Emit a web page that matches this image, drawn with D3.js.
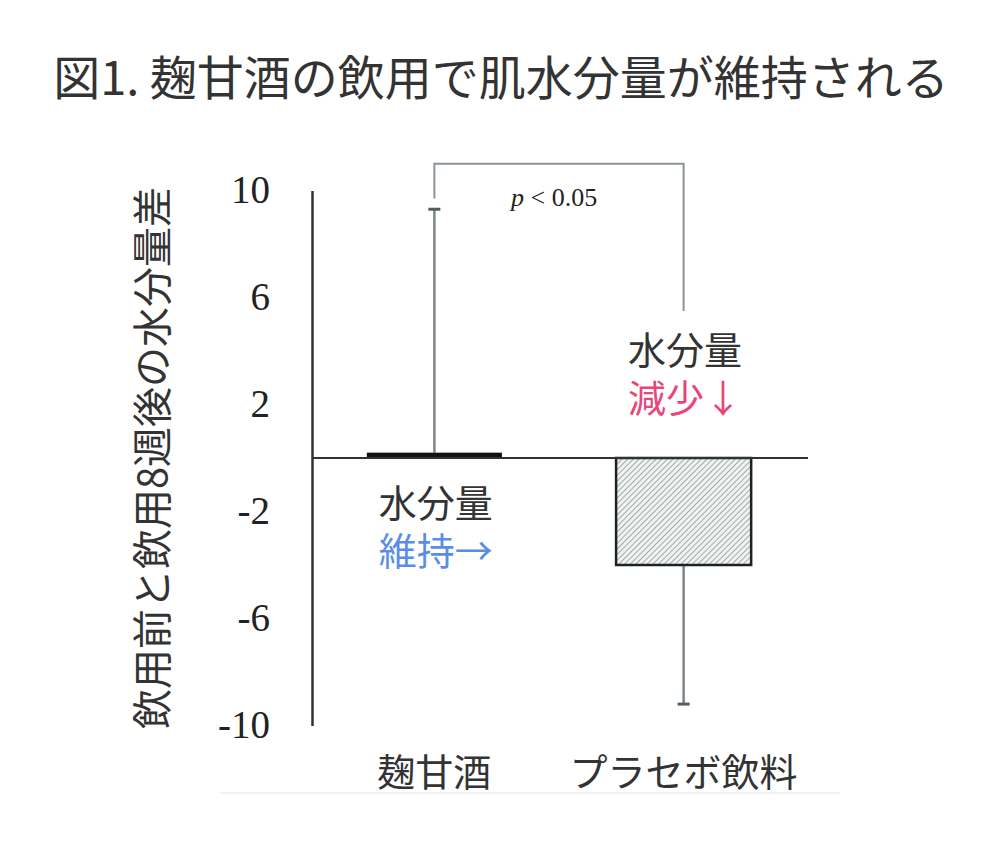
<!DOCTYPE html>
<html>
<head>
<meta charset="utf-8">
<script src="https://cdn.jsdelivr.net/npm/d3@7"></script>
<style>
  html, body { margin: 0; padding: 0; background: #fff; }
  svg { display: block; }
</style>
</head>
<body>
<div id="chart"></div>
<script>
// data
var categories = ["麹甘酒", "プラセボ飲料"];
var means = [0.2, -4.0];
var sds = [9.1, 5.2];
var tickValues = [10, 6, 2, -2, -6, -10];
var notes = [
    { cat: 0, lines: ["水分量", "維持→"], color: "#5a8ee6", v: -2.2 },
    { cat: 1, lines: ["水分量", "減少↓"], color: "#e8457a", v: 3.5 }
];
var bracket = { top: 11.0, leftEnd: 9.7, rightEnd: 5.5, label: "p < 0.05" };

var width = 1001, height = 841;
var svg = d3.select("#chart").append("svg")
    .attr("width", width)
    .attr("height", height);

var cjk = "'Noto Sans CJK JP', 'Noto Sans', sans-serif";
var serif = "'Liberation Serif', 'DejaVu Serif', serif";

var y = d3.scaleLinear().domain([-10, 10]).range([725.5, 190.5]);
var x = d3.scaleBand().domain(categories).range([312, 806])
    .paddingInner(0.458).paddingOuter(0.22);

// hatch for the placebo bar
var defs = svg.append("defs");
var pat = defs.append("pattern")
    .attr("id", "hatch")
    .attr("patternUnits", "userSpaceOnUse")
    .attr("width", 4).attr("height", 4)
    .attr("patternTransform", "rotate(45)");
pat.append("rect").attr("width", 4).attr("height", 4).attr("fill", "#f1f3f3");
pat.append("line").attr("x1", 0).attr("y1", 0).attr("x2", 0).attr("y2", 4)
    .attr("stroke", "#939c9c").attr("stroke-width", 1.7);

// title
svg.append("text")
    .attr("x", 501).attr("y", 95)
    .attr("text-anchor", "middle")
    .attr("font-family", cjk)
    .attr("font-size", 47)
    .attr("fill", "#333")
    .text("図1. 麹甘酒の飲用で肌水分量が維持される");

// y title
svg.append("text")
    .attr("transform", "translate(150," + y(0) + ") rotate(-90)")
    .attr("text-anchor", "middle")
    .attr("dominant-baseline", "central")
    .attr("font-family", cjk)
    .attr("font-size", 40)
    .attr("fill", "#333")
    .text("飲用前と飲用8週後の水分量差");

// significance bracket
var cx = function (i) { return x(categories[i]) + x.bandwidth() / 2; };
svg.append("path")
    .attr("d", "M" + cx(0) + "," + y(bracket.leftEnd) + "V" + y(bracket.top) +
        "H" + cx(1) + "V" + y(bracket.rightEnd))
    .attr("fill", "none")
    .attr("stroke", "#8c9494")
    .attr("stroke-width", 2);

var pt = svg.append("text")
    .attr("x", 511).attr("y", y(bracket.top) + 42)
    .attr("font-family", serif)
    .attr("font-size", 26)
    .attr("fill", "#222");
pt.append("tspan").attr("font-style", "italic").text("p");
pt.append("tspan").text(" < 0.05");

// error bars (away from zero)
var errs = svg.append("g").selectAll("g").data(means).enter().append("g");
errs.append("line")
    .attr("x1", function (d, i) { return cx(i); })
    .attr("x2", function (d, i) { return cx(i); })
    .attr("y1", function (d) { return y(d); })
    .attr("y2", function (d, i) { return y(d + (d >= 0 ? sds[i] : -sds[i])); })
    .attr("stroke", "#7d8585")
    .attr("stroke-width", 2.5);
errs.append("line")
    .attr("x1", function (d, i) { return cx(i) - 6; })
    .attr("x2", function (d, i) { return cx(i) + 6; })
    .attr("y1", function (d, i) { return y(d + (d >= 0 ? sds[i] : -sds[i])); })
    .attr("y2", function (d, i) { return y(d + (d >= 0 ? sds[i] : -sds[i])); })
    .attr("stroke", "#555c5c")
    .attr("stroke-width", 3);

// bars
svg.append("g").selectAll("rect").data(means).enter().append("rect")
    .attr("x", function (d, i) { return x(categories[i]); })
    .attr("width", x.bandwidth())
    .attr("y", function (d) { return y(Math.max(0, d)); })
    .attr("height", function (d) { return Math.abs(y(d) - y(0)); })
    .attr("fill", function (d, i) { return i == 0 ? "#111" : "url(#hatch)"; })
    .attr("stroke", function (d, i) { return i == 0 ? "none" : "#1e2222"; })
    .attr("stroke-width", 2.5);

// zero line
svg.append("line")
    .attr("x1", 312).attr("x2", 808)
    .attr("y1", y(0)).attr("y2", y(0))
    .attr("stroke", "#2e3333")
    .attr("stroke-width", 2);

// y axis
var yAxis = svg.append("g")
    .attr("transform", "translate(312,0)")
    .call(d3.axisLeft(y).tickValues(tickValues).tickSize(0).tickSizeOuter(0).tickPadding(42)
        .tickFormat(function (d) { return String(d); }));
yAxis.select(".domain").attr("stroke", "#2e3333").attr("stroke-width", 2.5);
yAxis.selectAll(".tick text")
    .attr("font-family", serif)
    .attr("font-size", 39)
    .attr("fill", "#222");

// category labels
svg.append("g").selectAll("text").data(categories).enter().append("text")
    .attr("x", function (d, i) { return cx(i); })
    .attr("y", 786)
    .attr("text-anchor", "middle")
    .attr("font-family", cjk)
    .attr("font-size", 38)
    .attr("fill", "#333")
    .text(function (d) { return d; });

// annotations
notes.forEach(function (n) {
    var x0 = x(categories[n.cat]) + 12;
    svg.append("text")
        .attr("x", x0).attr("y", y(n.v))
        .attr("font-family", cjk).attr("font-size", 38)
        .attr("fill", "#333").text(n.lines[0]);
    svg.append("text")
        .attr("x", x0).attr("y", y(n.v) + 48)
        .attr("font-family", cjk).attr("font-size", 38)
        .attr("fill", n.color).text(n.lines[1]);
});

// faint rule at the bottom
svg.append("line")
    .attr("x1", 220).attr("x2", 840)
    .attr("y1", 793).attr("y2", 793)
    .attr("stroke", "#f2f2f2")
    .attr("stroke-width", 2);
</script>
</body>
</html>
